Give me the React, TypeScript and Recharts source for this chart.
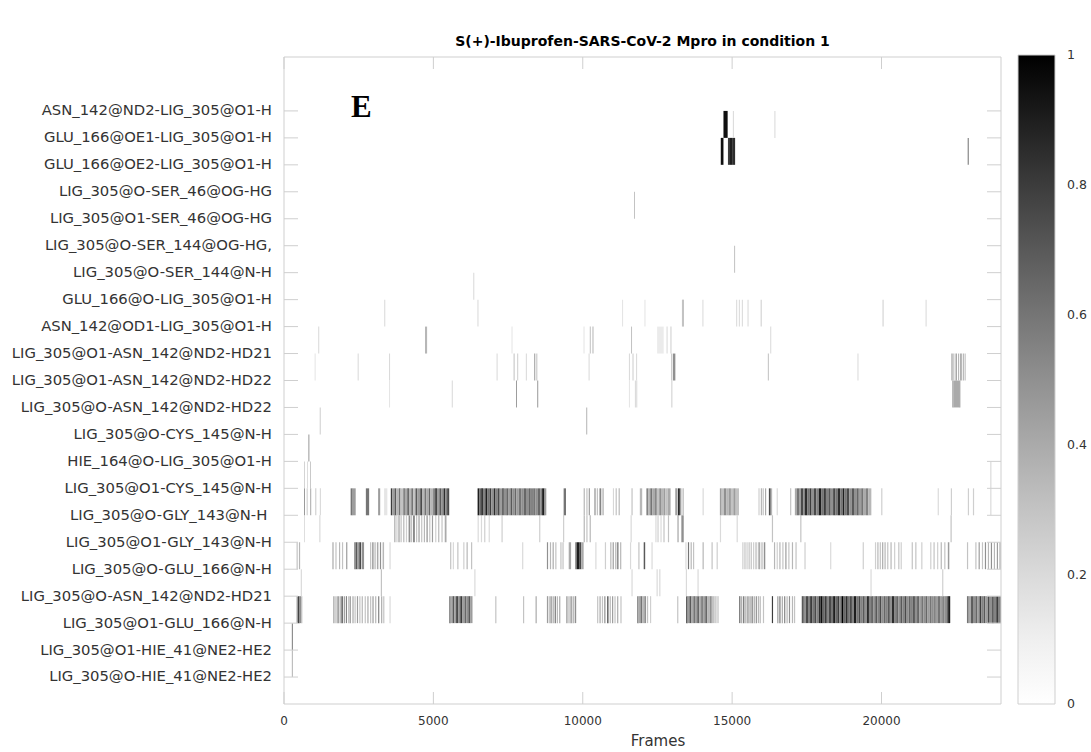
import React from 'react';
import { BarChart, Bar, ComposedChart, ReferenceArea, XAxis, YAxis } from 'recharts';

// [start frame, end frame, occupancy]
type Seg = [number, number, number];

const FRAMES_MAX = 24000;
const frameTicks = [0, 5000, 10000, 15000, 20000];
const colorbarTicks = [0, 0.2, 0.4, 0.6, 0.8, 1];

// bottom to top
const hbondLabels = [
  'LIG_305@O-HIE_41@NE2-HE2',
  'LIG_305@O1-HIE_41@NE2-HE2',
  'LIG_305@O1-GLU_166@N-H',
  'LIG_305@O-ASN_142@ND2-HD21',
  'LIG_305@O-GLU_166@N-H',
  'LIG_305@O1-GLY_143@N-H',
  'LIG_305@O-GLY_143@N-H\u00a0',
  'LIG_305@O1-CYS_145@N-H',
  'HIE_164@O-LIG_305@O1-H',
  'LIG_305@O-CYS_145@N-H',
  'LIG_305@O-ASN_142@ND2-HD22',
  'LIG_305@O1-ASN_142@ND2-HD22',
  'LIG_305@O1-ASN_142@ND2-HD21',
  'ASN_142@OD1-LIG_305@O1-H',
  'GLU_166@O-LIG_305@O1-H',
  'LIG_305@O-SER_144@N-H',
  'LIG_305@O-SER_144@OG-HG,',
  'LIG_305@O1-SER_46@OG-HG',
  'LIG_305@O-SER_46@OG-HG',
  'GLU_166@OE2-LIG_305@O1-H',
  'GLU_166@OE1-LIG_305@O1-H',
  'ASN_142@ND2-LIG_305@O1-H',
];

const hie41ONe2: Seg[] = [[262, 298, 0.35]];
const hie41O1Ne2: Seg[] = [[262, 298, 0.55]];

const glu166O1N: Seg[] = [
  [420, 470, 0.45], [470, 520, 0.8], [520, 570, 0.5], [570, 615, 0.3],
  [1650, 1690, 0.45], [1720, 1760, 0.35], [1790, 1830, 0.6], [1860, 1900, 0.4], [1920, 1970, 0.7],
  [2000, 2040, 0.45], [2070, 2110, 0.55], [2150, 2190, 0.35], [2200, 2240, 0.45], [2290, 2330, 0.4],
  [2360, 2400, 0.3], [2440, 2480, 0.45], [2520, 2560, 0.3], [2600, 2640, 0.35], [2700, 2740, 0.3],
  [2790, 2830, 0.4], [2880, 2920, 0.3], [2960, 3000, 0.45], [3050, 3090, 0.35], [3150, 3190, 0.55],
  [3250, 3290, 0.4], [3320, 3360, 0.3], [3530, 3570, 0.2],
  [5530, 5580, 0.6], [5580, 5640, 0.4], [5640, 5700, 0.7], [5700, 5760, 0.45], [5760, 5830, 0.75],
  [5830, 5900, 0.5], [5900, 5960, 0.8], [5960, 6040, 0.45], [6040, 6100, 0.65], [6100, 6170, 0.5],
  [6170, 6240, 0.7], [6240, 6310, 0.45],
  [7070, 7110, 0.3], [8000, 8040, 0.3], [8420, 8460, 0.4],
  [8800, 8840, 0.45], [8860, 8900, 0.3], [8920, 8960, 0.55], [8990, 9030, 0.4], [9060, 9100, 0.6],
  [9130, 9170, 0.35], [9210, 9250, 0.4], [9450, 9490, 0.5], [9520, 9560, 0.35], [9590, 9630, 0.55],
  [9660, 9700, 0.4], [9730, 9780, 0.5],
  [10480, 10520, 0.3], [10560, 10600, 0.4], [10640, 10680, 0.3], [10720, 10760, 0.5], [10820, 10860, 0.8],
  [10900, 10940, 0.35], [10980, 11020, 0.45], [11060, 11100, 0.3], [11150, 11190, 0.4], [11260, 11300, 0.3],
  [11820, 11870, 0.55], [11870, 11930, 0.4], [11930, 11990, 0.6], [11990, 12060, 0.35], [12060, 12120, 0.5],
  [12150, 12190, 0.3], [12250, 12290, 0.25], [13160, 13200, 0.3],
  [13460, 13510, 0.75], [13510, 13570, 0.45], [13570, 13640, 0.7], [13640, 13700, 0.4], [13700, 13760, 0.6],
  [13760, 13830, 0.45], [13830, 13900, 0.65], [13900, 13960, 0.4], [13960, 14030, 0.55], [14030, 14100, 0.45],
  [14100, 14170, 0.65], [14170, 14250, 0.35], [14250, 14320, 0.5], [14320, 14400, 0.3], [14400, 14480, 0.25],
  [14480, 14560, 0.2],
  [15230, 15280, 0.55], [15300, 15340, 0.4], [15370, 15410, 0.65], [15440, 15480, 0.4], [15510, 15550, 0.55],
  [15580, 15620, 0.45], [15650, 15690, 0.6], [15720, 15760, 0.4], [15790, 15830, 0.5], [15860, 15900, 0.35],
  [15920, 15960, 0.35], [16030, 16070, 0.3], [16330, 16370, 0.8],
  [16510, 16550, 0.45], [16580, 16620, 0.6], [16660, 16700, 0.4], [16740, 16780, 0.55], [16820, 16860, 0.35],
  [16900, 16940, 0.5], [17000, 17040, 0.35], [17070, 17110, 0.3],
  [17330, 17400, 0.7], [17400, 17470, 0.5], [17470, 17540, 0.75], [17540, 17610, 0.55], [17610, 17680, 0.8],
  [17680, 17750, 0.6], [17750, 17820, 0.75], [17820, 17900, 0.55], [17900, 17960, 0.85], [17960, 18030, 0.95],
  [18030, 18100, 0.65], [18100, 18170, 0.8], [18170, 18240, 0.55], [18240, 18310, 0.75], [18310, 18380, 0.6],
  [18380, 18450, 0.9], [18450, 18520, 0.65], [18520, 18590, 0.8], [18590, 18660, 0.55], [18660, 18730, 1],
  [18730, 18800, 0.65], [18800, 18870, 0.85], [18870, 18940, 0.6], [18940, 19010, 0.75], [19010, 19080, 0.55],
  [19080, 19160, 0.9], [19160, 19230, 0.6], [19230, 19300, 0.75], [19300, 19370, 0.55], [19370, 19440, 0.7],
  [19440, 19510, 0.5], [19510, 19580, 0.85], [19580, 19650, 0.55], [19650, 19720, 0.65], [19720, 19790, 0.5],
  [19790, 19860, 0.7], [19860, 19930, 0.55], [19930, 20000, 0.75], [20000, 20070, 0.5], [20070, 20140, 0.65],
  [20140, 20210, 0.55], [20210, 20280, 0.7], [20280, 20350, 0.5], [20350, 20420, 0.85], [20420, 20490, 0.55],
  [20490, 20560, 0.65], [20560, 20630, 0.5], [20630, 20700, 0.7], [20700, 20770, 0.55], [20770, 20840, 0.75],
  [20840, 20910, 0.5], [20910, 20980, 0.65], [20980, 21050, 0.55], [21050, 21120, 0.7], [21120, 21190, 0.5],
  [21190, 21260, 0.65], [21260, 21330, 0.45], [21330, 21400, 0.6], [21400, 21470, 0.5], [21470, 21540, 0.65],
  [21540, 21610, 0.45], [21610, 21680, 0.6], [21680, 21750, 0.5], [21750, 21820, 0.55], [21820, 21890, 0.45],
  [21890, 21960, 0.6], [21960, 22030, 0.45], [22030, 22100, 0.55], [22100, 22170, 0.5], [22170, 22230, 0.65],
  [22230, 22300, 0.9],
  [22860, 22920, 0.6], [22920, 23000, 0.4], [23000, 23060, 0.75], [23060, 23140, 0.5], [23140, 23200, 0.65],
  [23200, 23280, 0.45], [23280, 23340, 0.8], [23340, 23420, 0.55], [23420, 23480, 0.7], [23480, 23560, 0.45],
  [23560, 23620, 0.75], [23620, 23700, 0.5], [23700, 23760, 0.7], [23760, 23840, 0.55], [23840, 23900, 0.8],
  [23900, 24000, 0.55],
];

const asn142OHd21: Seg[] = [
  [560, 600, 0.2], [3240, 3280, 0.3], [6370, 6410, 0.2], [11630, 11670, 0.2], [12470, 12510, 0.2],
  [12560, 12600, 0.2], [13450, 13490, 0.2], [13840, 13880, 0.2], [19630, 19670, 0.2], [22030, 22070, 0.25],
];

const glu166ON: Seg[] = [
  [420, 460, 0.3], [500, 540, 0.35],
  [1620, 1660, 0.4], [1720, 1760, 0.3], [1840, 1880, 0.35], [1940, 1980, 0.3], [2080, 2120, 0.45],
  [2350, 2400, 0.55], [2400, 2460, 0.7], [2460, 2520, 0.45], [2520, 2580, 0.75], [2600, 2680, 0.5],
  [2880, 2920, 0.3], [2950, 3000, 0.45], [3020, 3080, 0.25], [3110, 3160, 0.4], [3210, 3250, 0.5],
  [3300, 3350, 0.35], [3530, 3570, 0.2],
  [5560, 5600, 0.3], [5650, 5690, 0.2], [5800, 5840, 0.3], [6000, 6040, 0.25], [6110, 6150, 0.35],
  [6260, 6300, 0.3], [7970, 8010, 0.2],
  [8800, 8840, 0.5], [8900, 8940, 0.35], [8990, 9030, 0.4], [9080, 9120, 0.3], [9250, 9290, 0.3],
  [9320, 9360, 0.3], [9530, 9610, 0.4], [9750, 9800, 0.6], [9800, 9880, 0.9], [9880, 9950, 0.75],
  [9950, 10030, 0.4], [10420, 10460, 0.2], [10740, 10780, 0.25],
  [10920, 10960, 0.35], [11000, 11040, 0.45], [11080, 11120, 0.3], [11140, 11200, 0.5], [11250, 11290, 0.35],
  [11580, 11620, 0.2], [11860, 11900, 0.3], [12040, 12090, 0.7], [12300, 12340, 0.2],
  [13440, 13470, 0.25], [13520, 13560, 0.6], [13610, 13650, 0.35], [13690, 13730, 0.3], [14010, 14050, 0.35],
  [14310, 14350, 0.3], [14480, 14520, 0.25],
  [15340, 15380, 0.25], [15410, 15450, 0.3], [15480, 15520, 0.25], [15550, 15590, 0.3], [15620, 15660, 0.3],
  [15700, 15740, 0.25], [15780, 15820, 0.35], [15860, 15900, 0.3], [15900, 15940, 0.4], [15980, 16020, 0.35],
  [16060, 16110, 0.5],
  [16400, 16440, 0.35], [16490, 16530, 0.25], [16580, 16620, 0.35], [16680, 16720, 0.3], [16780, 16820, 0.45],
  [16880, 16920, 0.3], [17000, 17040, 0.35], [17120, 17160, 0.3], [17420, 17460, 0.25], [18280, 18320, 0.2],
  [19370, 19410, 0.25],
  [19780, 19820, 0.25], [19860, 19900, 0.35], [19940, 19980, 0.3], [20020, 20060, 0.4], [20100, 20140, 0.35],
  [20190, 20230, 0.3], [20300, 20340, 0.35], [20420, 20460, 0.25], [20560, 20600, 0.3], [20640, 20680, 0.25],
  [21010, 21050, 0.3], [21130, 21170, 0.3], [21330, 21370, 0.25],
  [21630, 21670, 0.25], [21740, 21780, 0.3], [21860, 21900, 0.25], [21980, 22020, 0.35], [22100, 22140, 0.3],
  [22220, 22270, 0.45], [22860, 22900, 0.3],
  [23140, 23180, 0.3], [23250, 23290, 0.45], [23360, 23400, 0.3], [23460, 23500, 0.5], [23560, 23600, 0.35],
  [23660, 23700, 0.5], [23760, 23800, 0.35], [23860, 23900, 0.45], [23940, 24000, 0.3],
];

const gly143O1N: Seg[] = [
  [670, 700, 0.2], [1180, 1220, 0.2],
  [3690, 3730, 0.4], [3760, 3800, 0.25], [3830, 3870, 0.45], [3900, 3940, 0.3], [3990, 4030, 0.35],
  [4080, 4120, 0.25], [4170, 4230, 0.5], [4250, 4290, 0.3], [4320, 4380, 0.55], [4420, 4460, 0.3],
  [4500, 4540, 0.45], [4590, 4630, 0.3], [4680, 4720, 0.35], [4770, 4810, 0.5], [4860, 4900, 0.3],
  [4950, 4990, 0.45], [5060, 5100, 0.25], [5160, 5200, 0.35], [5270, 5310, 0.3], [5380, 5440, 0.4],
  [6480, 6520, 0.2], [6590, 6630, 0.2], [6700, 6740, 0.25], [6850, 6890, 0.2], [7280, 7320, 0.25],
  [8540, 8580, 0.25], [9340, 9380, 0.25], [10030, 10070, 0.35], [10120, 10160, 0.3], [10230, 10270, 0.35],
  [11600, 11640, 0.2], [12430, 12470, 0.2], [12500, 12540, 0.25], [12600, 12640, 0.2], [12700, 12740, 0.3],
  [12850, 12890, 0.3], [13160, 13220, 0.3], [13300, 13380, 0.5], [14590, 14630, 0.2], [15150, 15190, 0.2],
  [16330, 16370, 0.3], [17280, 17320, 0.3], [22310, 22350, 0.3],
];

const gly143ON: Seg[] = [
  [670, 700, 0.5], [760, 790, 0.3], [880, 910, 0.45], [1050, 1080, 0.3], [1200, 1230, 0.25],
  [2230, 2300, 0.6], [2300, 2400, 0.45], [2740, 2850, 0.6], [3150, 3220, 0.45], [3350, 3460, 0.15],
  [3575, 3620, 0.8], [3620, 3700, 0.45], [3700, 3760, 0.7], [3760, 3850, 0.35], [3850, 3900, 0.6],
  [3900, 3990, 0.3], [3990, 4050, 0.55], [4050, 4130, 0.4], [4130, 4180, 0.75], [4180, 4260, 0.35],
  [4260, 4320, 0.6], [4320, 4400, 0.3], [4400, 4460, 0.7], [4460, 4560, 0.45], [4560, 4620, 0.75],
  [4620, 4700, 0.35], [4700, 4760, 0.6], [4760, 4850, 0.4], [4850, 4900, 0.65], [4900, 4990, 0.35],
  [4990, 5060, 0.55], [5060, 5120, 0.8], [5120, 5200, 0.45], [5200, 5260, 0.7], [5260, 5340, 0.5],
  [5340, 5400, 0.85], [5400, 5460, 0.55], [5460, 5530, 0.75],
  [6480, 6540, 0.9], [6540, 6600, 0.65], [6600, 6660, 0.85], [6660, 6740, 0.55], [6740, 6800, 0.9],
  [6800, 6880, 0.6], [6880, 6940, 0.8], [6940, 7020, 0.5], [7020, 7080, 0.85], [7080, 7160, 0.55],
  [7160, 7220, 0.75], [7220, 7300, 0.45], [7300, 7360, 0.7], [7360, 7440, 0.5], [7440, 7500, 0.65],
  [7500, 7580, 0.45], [7580, 7640, 0.7], [7640, 7720, 0.5], [7720, 7780, 0.65], [7780, 7860, 0.45],
  [7860, 7940, 0.6], [7940, 8020, 0.5], [8020, 8100, 0.65], [8100, 8200, 0.5], [8200, 8260, 0.65],
  [8260, 8340, 0.55], [8340, 8420, 0.6], [8420, 8500, 0.5], [8500, 8580, 0.65], [8580, 8640, 0.55],
  [8640, 8720, 0.9], [8720, 8780, 0.45],
  [9360, 9440, 0.6], [10030, 10070, 0.35], [10120, 10160, 0.3], [10200, 10240, 0.45], [10390, 10430, 0.5],
  [10470, 10510, 0.3], [10560, 10620, 0.55], [10660, 10700, 0.4], [11010, 11040, 0.25], [11100, 11140, 0.3],
  [11200, 11240, 0.35], [11630, 11670, 0.3], [11910, 11990, 0.35],
  [12130, 12200, 0.55], [12200, 12260, 0.35], [12260, 12330, 0.6], [12330, 12420, 0.4], [12420, 12480, 0.55],
  [12480, 12560, 0.3], [12560, 12620, 0.5], [12620, 12700, 0.35], [12700, 12760, 0.45], [12760, 12840, 0.3],
  [12840, 12940, 0.4],
  [13100, 13150, 0.5], [13180, 13250, 0.85], [13260, 13300, 0.5], [13340, 13380, 0.35], [14010, 14050, 0.2],
  [14590, 14650, 0.45], [14650, 14720, 0.3], [14720, 14800, 0.5], [14800, 14880, 0.35], [14880, 14960, 0.45],
  [14960, 15040, 0.3], [15040, 15120, 0.45], [15120, 15230, 0.3],
  [15880, 15920, 0.25], [15960, 16000, 0.35], [16020, 16060, 0.3], [16100, 16140, 0.4], [16230, 16290, 0.75],
  [16300, 16340, 0.35], [16490, 16530, 0.2], [16940, 16980, 0.3],
  [17100, 17160, 0.4], [17160, 17240, 0.6], [17240, 17300, 0.45], [17300, 17380, 0.75], [17380, 17440, 0.55],
  [17440, 17520, 0.85], [17520, 17600, 0.6], [17600, 17660, 0.8], [17660, 17740, 0.5], [17740, 17820, 0.75],
  [17820, 17900, 0.55], [17900, 17980, 0.9], [17980, 18060, 0.6], [18060, 18140, 0.8], [18140, 18220, 0.55],
  [18220, 18300, 0.7], [18300, 18380, 0.5], [18380, 18460, 0.75], [18460, 18540, 0.6], [18540, 18620, 0.85],
  [18620, 18700, 0.6], [18700, 18760, 0.9], [18760, 18840, 0.6], [18840, 18920, 0.75], [18920, 19000, 0.5],
  [19000, 19080, 0.7], [19080, 19160, 0.5], [19160, 19240, 0.65], [19240, 19320, 0.45], [19320, 19400, 0.6],
  [19400, 19480, 0.4], [19480, 19560, 0.55], [19560, 19660, 0.35],
  [19990, 20030, 0.25], [21880, 21920, 0.2], [22320, 22360, 0.25], [22890, 22930, 0.25], [23060, 23100, 0.25],
  [23640, 23680, 0.2],
];

const cys145O1N: Seg[] = [[670, 700, 0.25], [770, 800, 0.2], [870, 900, 0.3], [23640, 23680, 0.2]];
const hie164O: Seg[] = [[815, 850, 0.45]];
const cys145ON: Seg[] = [[1195, 1230, 0.25], [10115, 10150, 0.35]];

const asn142OHd22: Seg[] = [
  [3515, 3550, 0.15], [5615, 5650, 0.2], [7765, 7800, 0.45], [8475, 8510, 0.45], [11545, 11580, 0.15],
  [11745, 11780, 0.2], [11790, 11825, 0.2], [12965, 13000, 0.25], [22370, 22400, 0.45], [22400, 22600, 0.4],
  [22600, 22640, 0.45],
];

const asn142O1Hd22: Seg[] = [
  [1025, 1060, 0.15], [2465, 2500, 0.2], [3515, 3550, 0.2], [7115, 7150, 0.2], [7685, 7720, 0.3],
  [7805, 7840, 0.25], [8095, 8130, 0.2], [8375, 8410, 0.45], [8445, 8480, 0.3], [10195, 10230, 0.2],
  [11545, 11580, 0.2], [11665, 11700, 0.25], [11785, 11820, 0.2], [12960, 13000, 0.3], [13020, 13100, 0.5],
  [16195, 16230, 0.3], [19195, 19230, 0.2], [22340, 22380, 0.45], [22400, 22440, 0.3], [22480, 22520, 0.5],
  [22560, 22600, 0.35], [22640, 22680, 0.55], [22720, 22760, 0.35], [22780, 22820, 0.3],
];

const asn142O1Hd21: Seg[] = [
  [1145, 1180, 0.2], [4720, 4790, 0.35], [7615, 7650, 0.15], [10025, 10060, 0.15], [10235, 10270, 0.3],
  [10325, 10360, 0.35], [11615, 11650, 0.3], [12490, 12710, 0.12], [12805, 12840, 0.2], [12935, 12970, 0.25],
  [16275, 16310, 0.2],
];

const asn142Od1: Seg[] = [
  [3355, 3390, 0.2], [6475, 6510, 0.2], [11315, 11350, 0.15], [12065, 12100, 0.15], [13320, 13390, 0.3],
  [14005, 14040, 0.2], [15135, 15170, 0.2], [15225, 15260, 0.2], [15325, 15360, 0.2], [15515, 15550, 0.2],
  [15955, 15990, 0.25], [20035, 20070, 0.25], [21475, 21510, 0.2],
];

const glu166O: Seg[] = [[6335, 6370, 0.2]];
const ser144ON: Seg[] = [[15065, 15100, 0.3]];
const ser144OOg: Seg[] = [];
const ser46O1Og: Seg[] = [[11715, 11750, 0.3]];
const ser46OOg: Seg[] = [];
const glu166Oe2: Seg[] = [
  [14620, 14710, 0.95], [14860, 14900, 0.8], [14900, 15000, 0.9], [15000, 15100, 0.85], [22885, 22920, 0.6],
];
const glu166Oe1: Seg[] = [[14710, 14850, 0.95], [15025, 15060, 0.2], [16415, 16450, 0.2]];
const asn142Nd2: Seg[] = [];

const hbondRows: Seg[][] = [
  hie41ONe2, hie41O1Ne2, glu166O1N, asn142OHd21, glu166ON, gly143O1N, gly143ON, cys145O1N,
  hie164O, cys145ON, asn142OHd22, asn142O1Hd22, asn142O1Hd21, asn142Od1, glu166O, ser144ON,
  ser144OOg, ser46O1Og, ser46OOg, glu166Oe2, glu166Oe1, asn142Nd2,
];

const rowTicks = hbondLabels.map((_, i) => i);

// layout
const W = 1091;
const H = 752;
const PLOT = { left: 284, right: 1001, top: 57, bottom: 704 };
const FRAME = '#cfcfcf';
const FONT = '"DejaVu Sans", sans-serif';

const occupancyGray = (v: number) => {
  const g = Math.round(255 * (1 - Math.pow(v, 1.2)));
  return `rgb(${g},${g},${g})`;
};

const RowTick = (props: any) => {
  const { y, payload } = props;
  return (
    <g>
      <line x1={PLOT.left} x2={PLOT.left + 14} y1={y} y2={y} stroke={FRAME} />
      <line x1={PLOT.right - 14} x2={PLOT.right} y1={y} y2={y} stroke={FRAME} />
      <text x={PLOT.left - 12} y={y} dy="0.3em" textAnchor="end" fontFamily={FONT} fontSize={14.8} fill="#333">
        {hbondLabels[payload.value]}
      </text>
    </g>
  );
};

const FrameTick = (props: any) => {
  const { x, payload } = props;
  return (
    <g>
      <line x1={x} x2={x} y1={PLOT.bottom} y2={PLOT.bottom - 12} stroke={FRAME} />
      <line x1={x} x2={x} y1={PLOT.top} y2={PLOT.top + 12} stroke={FRAME} />
      <text x={x} y={PLOT.bottom + 21} textAnchor="middle" fontFamily={FONT} fontSize={12} fill="#333">
        {payload.value}
      </text>
    </g>
  );
};

const ColorbarTick = (props: any) => {
  const { x, y, payload } = props;
  const v = payload.value;
  const inner = v > 0 && v < 1;
  return (
    <g>
      {inner && <line x1={1018} x2={1024} y1={y} y2={y} stroke="rgba(0,0,0,0.12)" />}
      {inner && <line x1={1049} x2={1055} y1={y} y2={y} stroke="rgba(0,0,0,0.12)" />}
      <text x={x + 4} y={y} dy="0.35em" textAnchor="start" fontFamily={FONT} fontSize={12.5} fill="#333">
        {v}
      </text>
    </g>
  );
};

const gradientStops = [0, 0.1, 0.2, 0.3, 0.4, 0.5, 0.6, 0.7, 0.8, 0.9, 1];
const colorbarData = [{ name: 'occupancy', level: 1 }];

export default function App() {
  return (
    <div style={{ position: 'absolute', left: 0, top: 0, width: W, height: H, background: '#fff' }}>
      <div
        style={{
          position: 'absolute', left: PLOT.left, top: 33, width: PLOT.right - PLOT.left, textAlign: 'center',
          fontFamily: FONT, fontWeight: 'bold', fontSize: 14, color: '#000',
        }}
      >
        S(+)-Ibuprofen-SARS-CoV-2 Mpro in condition 1
      </div>
      <div
        style={{
          position: 'absolute', left: 351, top: 89, fontFamily: '"Liberation Serif", serif', fontWeight: 'bold',
          fontSize: 31, color: '#000', lineHeight: '36px',
        }}
      >
        E
      </div>
      <div
        style={{
          position: 'absolute', left: 558, top: 732, width: 200, textAlign: 'center',
          fontFamily: FONT, fontSize: 15, color: '#333',
        }}
      >
        Frames
      </div>

      <ComposedChart
        width={W}
        height={H}
        data={[]}
        margin={{ top: PLOT.top, right: W - PLOT.right, bottom: 0, left: 0 }}
        style={{ position: 'absolute', left: 0, top: 0 }}
      >
        <XAxis
          type="number"
          dataKey="frame"
          domain={[0, FRAMES_MAX]}
          ticks={frameTicks}
          tick={(p: any) => <FrameTick {...p} />}
          tickLine={false}
          axisLine={false}
          height={H - PLOT.bottom}
          interval={0}
          allowDataOverflow
        />
        <YAxis
          type="number"
          dataKey="row"
          domain={[-1, 23]}
          ticks={rowTicks}
          tick={(p: any) => <RowTick {...p} />}
          tickLine={false}
          axisLine={false}
          width={PLOT.left}
          interval={0}
          allowDataOverflow
        />
        {hbondRows.flatMap((segs, row) =>
          segs.map(([start, end, occ], i) => (
            <ReferenceArea
              key={`r${row}-${i}`}
              x1={start}
              x2={end}
              y1={row}
              y2={row + 1}
              fill={occupancyGray(occ)}
              fillOpacity={1}
              stroke="none"
            />
          ))
        )}
        <ReferenceArea x1={0} x2={FRAMES_MAX} y1={-1} y2={23} fill="none" fillOpacity={0} stroke={FRAME} />
      </ComposedChart>

      <BarChart
        width={W - 1010}
        height={H}
        data={colorbarData}
        margin={{ top: 55, right: 0, bottom: H - PLOT.bottom, left: 8 }}
        barCategoryGap={0}
        style={{ position: 'absolute', left: 1010, top: 0 }}
      >
        <defs>
          <linearGradient id="occGradient" x1="0" y1="1" x2="0" y2="0">
            {gradientStops.map((s) => (
              <stop key={s} offset={s} stopColor={occupancyGray(s)} />
            ))}
          </linearGradient>
        </defs>
        <XAxis dataKey="name" hide />
        <YAxis
          orientation="right"
          type="number"
          domain={[0, 1]}
          ticks={colorbarTicks}
          tick={(p: any) => <ColorbarTick {...p} />}
          tickLine={false}
          axisLine={false}
          width={36}
          interval={0}
        />
        <Bar dataKey="level" fill="url(#occGradient)" stroke={FRAME} isAnimationActive={false} />
      </BarChart>
    </div>
  );
}
